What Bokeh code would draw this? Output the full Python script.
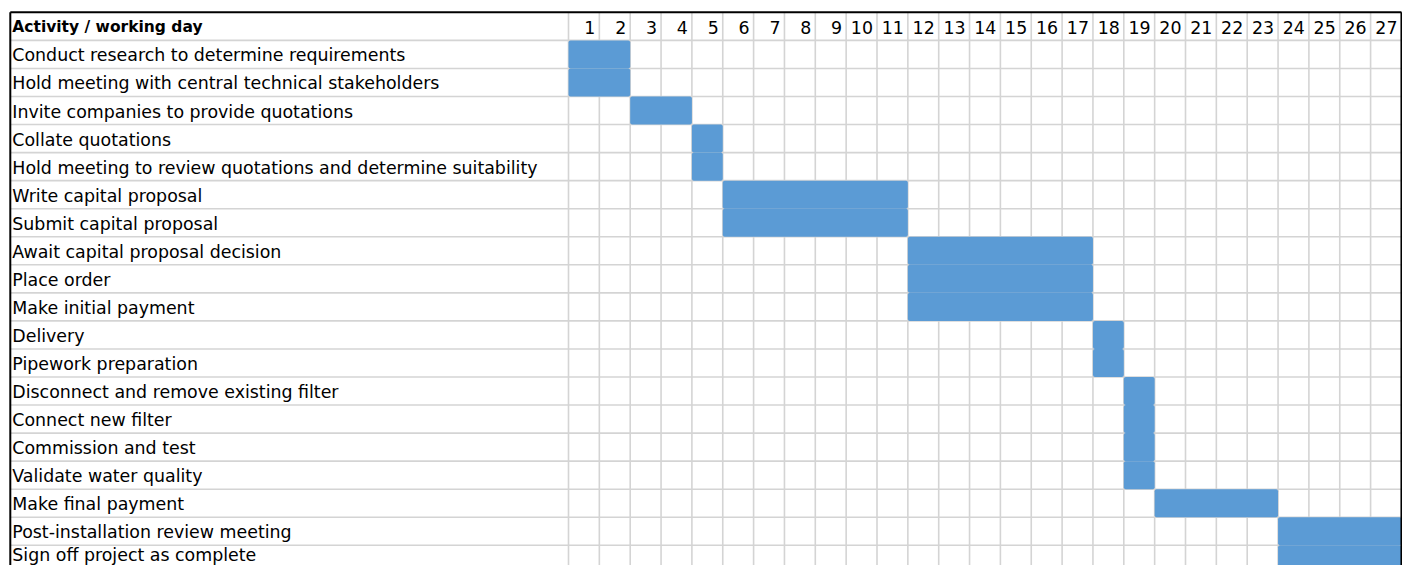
import numpy as np
from bokeh.plotting import figure
from bokeh.models import Range1d, ColumnDataSource
from bokeh.core.properties import value
from bokeh.embed import file_html
from bokeh.resources import INLINE

# ---------------- data ----------------
header = "Activity / working day"
activities = [
    "Conduct research to determine requirements",
    "Hold meeting with central technical stakeholders",
    "Invite companies to provide quotations",
    "Collate quotations",
    "Hold meeting to review quotations and determine suitability",
    "Write capital proposal",
    "Submit capital proposal",
    "Await capital proposal decision",
    "Place order",
    "Make initial payment",
    "Delivery",
    "Pipework preparation",
    "Disconnect and remove existing filter",
    "Connect new filter",
    "Commission and test",
    "Validate water quality",
    "Make final payment",
    "Post-installation review meeting",
    "Sign off project as complete",
]
start_day = [1, 1, 3, 5, 5, 6, 6, 12, 12, 12, 18, 18, 19, 19, 19, 19, 20, 24, 24]
end_day = [2, 2, 4, 5, 5, 11, 11, 17, 17, 17, 18, 18, 19, 19, 19, 19, 23, 27, 27]
day_labels = ["1", "2", "3", "4", "5", "6", "7", "8", "9", "10", "11", "12", "13", "14",
              "15", "16", "17", "18", "19", "20", "21", "22", "23", "24", "25", "26", "27"]

# ---------------- geometry ----------------
W, H = 1402, 565
COL_W = 30.85      # px per day column
ROW_H = 28.05      # px per row
X0 = 568.0         # px from figure left to first day column
Y0 = 11.85         # px from figure top to header top

n_days = len(day_labels)
n_rows = len(activities)

x_range = Range1d(-X0 / COL_W, (W - X0) / COL_W)
y_range = Range1d(start=(H - Y0) / ROW_H, end=-Y0 / ROW_H)
left_edge = (9.8 - X0) / COL_W
bottom_edge = n_rows + 1.5

FONT = "DejaVu Sans"
FSIZE = "17.4px"
GRID = "#D4D4D4"
BAR = "#5B9BD5"

p = figure(width=W, height=H, x_range=x_range, y_range=y_range,
           output_backend="svg", toolbar_location=None, min_border=0,
           x_axis_location=None, y_axis_location=None,
           outline_line_color=None, background_fill_color="white",
           border_fill_color="white")
p.xgrid.visible = False
p.ygrid.visible = False

# grid lines
hy = np.arange(1, n_rows + 1)
p.segment(x0=[left_edge] * len(hy), x1=[n_days] * len(hy), y0=hy, y1=hy,
          line_color=GRID, line_width=1.6)
vx = np.arange(0, n_days)
p.segment(x0=vx, x1=vx, y0=[0] * len(vx), y1=[bottom_edge] * len(vx),
          line_color=GRID, line_width=1.6)

# bars
rows = np.arange(1, n_rows + 1)
bars = ColumnDataSource(dict(
    left=np.array(start_day) - 1,
    right=np.array(end_day),
    top=rows,
    bottom=rows + 1,
))
p.quad(left="left", right="right", top="top", bottom="bottom", source=bars,
       fill_color=BAR, line_color=None, border_radius=2)

# borders
p.segment(x0=[left_edge], x1=[n_days], y0=[0], y1=[0], line_color="black", line_width=2)
p.segment(x0=[left_edge, n_days], x1=[left_edge, n_days], y0=[0, 0],
          y1=[bottom_edge, bottom_edge], line_color="black", line_width=2)

# header texts (vertically centred, 1px below the row centre)
mid_off = (ROW_H / 2 + 1.0) / ROW_H
p.text(x=[left_edge], y=[mid_off], text=[header], x_offset=2,
       text_font=value(FONT), text_font_size="15.5px", text_font_style="bold",
       text_color="black", text_baseline="middle", text_align="left")
p.text(x=np.arange(1, n_days + 1), y=[mid_off] * n_days, text=day_labels,
       x_offset=-4, text_font=value(FONT), text_font_size=FSIZE,
       text_color="black", text_baseline="middle", text_align="right")

# activity labels (last one kept inside the canvas)
max_mid = (H - 10.5 - Y0) / ROW_H
labels = ColumnDataSource(dict(
    x=[left_edge] * n_rows,
    y=np.minimum(rows + mid_off, max_mid),
    text=activities,
))
p.text(x="x", y="y", text="text", source=labels, x_offset=2,
       text_font=value(FONT), text_font_size=FSIZE, text_color="black",
       text_baseline="middle", text_align="left")

open("out.html", "w").write(file_html(p, INLINE))
